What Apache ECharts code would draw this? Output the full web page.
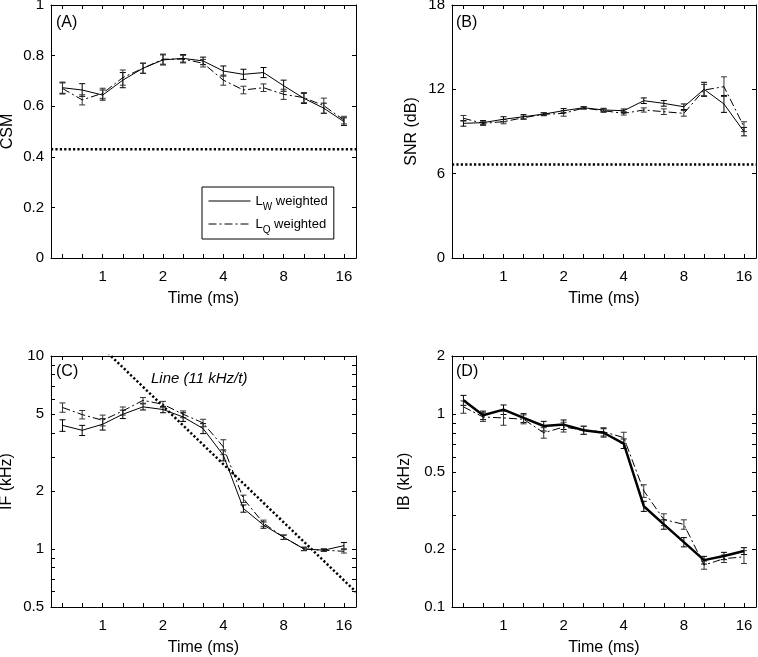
<!DOCTYPE html>
<html><head><meta charset="utf-8">
<script src="https://cdn.jsdelivr.net/npm/echarts@6/dist/echarts.min.js"></script>
<style>html,body{margin:0;padding:0;background:#fff}#c{width:758px;height:657px}</style>
</head><body><div id="c"></div>
<script>
// ---- data ----
const times = [0.63, 0.79, 1, 1.26, 1.59, 2, 2.52, 3.17, 4, 5.04, 6.35, 8, 10.1, 12.7, 16];
const timeLabels = [1, 2, 4, 8, 16];

const csmLw    = [0.673,0.664,0.644,0.703,0.750,0.783,0.789,0.779,0.739,0.726,0.733,0.681,0.631,0.592,0.539];
const csmLq    = [0.670,0.625,0.651,0.713,0.750,0.786,0.786,0.770,0.703,0.664,0.673,0.647,0.634,0.602,0.545];
const csmLwErr = [0.022,0.025,0.02,0.03,0.02,0.02,0.015,0.015,0.02,0.02,0.02,0.022,0.02,0.02,0.015];
const csmLqErr = [0.022,0.02,0.02,0.03,0.02,0.02,0.015,0.015,0.02,0.015,0.015,0.02,0.02,0.03,0.015];
const csmThreshold = 0.43;

const snrLw    = [9.58,9.63,9.87,10.05,10.24,10.48,10.69,10.53,10.48,11.19,11.0,10.76,12.0,10.96,8.99];
const snrLq    = [9.94,9.58,9.70,9.98,10.22,10.29,10.67,10.48,10.29,10.53,10.41,10.29,11.95,12.19,9.34];
const snrLwErr = [0.2,0.15,0.18,0.15,0.1,0.15,0.08,0.12,0.12,0.2,0.2,0.2,0.5,0.6,0.3];
const snrLqErr = [0.2,0.15,0.15,0.12,0.1,0.2,0.08,0.12,0.12,0.15,0.2,0.2,0.4,0.7,0.35];
const snrThreshold = 6.66;

const ifLw    = [4.37,4.12,4.43,4.99,5.45,5.28,4.83,4.21,3.06,1.62,1.33,1.15,1.0,0.985,1.04];
const ifLq    = [5.41,4.97,4.64,5.19,5.89,5.62,4.99,4.50,3.38,1.82,1.36,1.15,1.0,0.985,0.972];
const ifLwErr = [0.3,0.25,0.3,0.25,0.2,0.2,0.25,0.25,0.2,0.07,0.05,0.03,0.02,0.015,0.04];
const ifLqErr = [0.3,0.25,0.3,0.25,0.2,0.2,0.2,0.2,0.3,0.08,0.05,0.03,0.02,0.015,0.02];
const ifLineConstant = 11; // Line (11 kHz / t)
const ifTicks  = [0.5,0.6,0.7,0.8,0.9,1,2,3,4,5,6,7,8,9,10];
const ifLabels = [0.5,1,2,5,10];

const ibLw    = [1.18,0.986,1.055,0.955,0.867,0.882,0.825,0.80,0.703,0.333,0.268,0.217,0.175,0.184,0.195];
const ibLq    = [1.09,0.966,0.955,0.94,0.80,0.857,0.825,0.81,0.755,0.40,0.284,0.268,0.165,0.178,0.182];
const ibLwErr = [0.07,0.05,0.06,0.05,0.05,0.05,0.04,0.04,0.04,0.02,0.015,0.012,0.008,0.008,0.008];
const ibLqErr = [0.08,0.05,0.08,0.05,0.05,0.05,0.04,0.04,0.05,0.03,0.02,0.015,0.008,0.008,0.014];
const ibTicks  = [0.1,0.2,0.3,0.4,0.5,0.6,0.7,0.8,0.9,1,2];
const ibLabels = [0.1,0.2,0.5,1,2];

// ---- helpers ----
const FONT = 'Liberation Sans, Arial, Helvetica, sans-serif';
const XMIN = -0.857, XMAX = 4.2;           // log2(time) axis extent
const lg2 = Math.log2, lg10 = Math.log10;
const ident = v => v;
const DASHDOT = [8, 3, 2, 3];

function xAxes(g) {
  const base = {
    type: 'value', gridIndex: g, min: XMIN, max: XMAX,
    axisLine: {show: true, onZero: false, lineStyle: {color: '#000', width: 1}},
    axisTick: {show: true, inside: true, length: 4, customValues: times.map(lg2), lineStyle: {color: '#000'}},
    splitLine: {show: false}
  };
  return [
    Object.assign({}, base, {
      position: 'bottom',
      axisLabel: {show: true, customValues: timeLabels.map(lg2), formatter: v => String(Math.round(Math.pow(2, v))),
        margin: 11, fontSize: 15, color: '#000', fontFamily: FONT},
      name: 'Time (ms)', nameLocation: 'middle', nameGap: 33,
      nameTextStyle: {fontSize: 16, color: '#000', fontFamily: FONT}
    }),
    Object.assign({}, base, {position: 'top', axisLabel: {show: false}})
  ];
}
function yAxes(g, cfg) {
  const base = {
    type: 'value', gridIndex: g, min: cfg.min, max: cfg.max,
    axisLine: {show: true, onZero: false, lineStyle: {color: '#000', width: 1}},
    axisTick: Object.assign({show: true, inside: true, length: 4, lineStyle: {color: '#000'}},
      cfg.ticks ? {customValues: cfg.ticks} : {}),
    splitLine: {show: false}
  };
  if (cfg.interval) base.interval = cfg.interval;
  return [
    Object.assign({}, base, {
      position: 'left',
      axisLabel: Object.assign({show: true, margin: 7, fontSize: 15, color: '#000', fontFamily: FONT},
        cfg.labels ? {customValues: cfg.labels} : {}, cfg.fmt ? {formatter: cfg.fmt} : {}),
      name: cfg.name, nameLocation: 'middle', nameGap: cfg.gap,
      nameTextStyle: {fontSize: 16, color: '#000', fontFamily: FONT}
    }),
    Object.assign({}, base, {position: 'right', axisLabel: {show: false}})
  ];
}
function lineSeries(name, g, vals, tf, dash, width) {
  return {
    name, type: 'line', xAxisIndex: 2 * g, yAxisIndex: 2 * g,
    data: times.map((t, i) => [lg2(t), tf(vals[i])]),
    symbol: 'none', showSymbol: false, silent: true, z: 4,
    itemStyle: {color: '#000'},
    lineStyle: {color: '#000', width: width || 1, type: dash ? DASHDOT : 'solid'}
  };
}
function errSeries(name, g, vals, errs, tf, color) {
  return {
    name, type: 'custom', xAxisIndex: 2 * g, yAxisIndex: 2 * g, silent: true, z: 3,
    data: times.map((t, i) => [lg2(t), tf(vals[i] - errs[i]), tf(vals[i] + errs[i])]),
    encode: {x: 0, y: [1, 2]},
    renderItem: (params, api) => {
      const x = api.value(0);
      const p1 = api.coord([x, api.value(1)]);
      const p2 = api.coord([x, api.value(2)]);
      const w = 3, st = {stroke: color, lineWidth: 1};
      return {type: 'group', children: [
        {type: 'line', shape: {x1: p1[0], y1: p1[1], x2: p2[0], y2: p2[1]}, style: st},
        {type: 'line', shape: {x1: p1[0] - w, y1: p1[1], x2: p1[0] + w, y2: p1[1]}, style: st},
        {type: 'line', shape: {x1: p2[0] - w, y1: p2[1], x2: p2[0] + w, y2: p2[1]}, style: st}
      ]};
    }
  };
}
function dottedSeries(name, g, pts) {
  return {
    name, type: 'line', xAxisIndex: 2 * g, yAxisIndex: 2 * g, data: pts, clip: true,
    symbol: 'none', showSymbol: false, silent: true, z: 2,
    lineStyle: {color: '#000', width: 2.5, type: [2.2, 2.2]}
  };
}

const grids = [
  {left: 51, top: 5, width: 305, height: 253},
  {left: 452, top: 5, width: 304, height: 253},
  {left: 51, top: 356, width: 305, height: 251},
  {left: 452, top: 356, width: 304, height: 251}
].map(g => Object.assign(g, {containLabel: false, outerBoundsMode: 'none'}));

const logFmt = v => String(+Math.pow(10, v).toPrecision(2));

const xAxis = [].concat(xAxes(0), xAxes(1), xAxes(2), xAxes(3));
const yAxis = [].concat(
  yAxes(0, {min: 0, max: 1, interval: 0.2, name: 'CSM', gap: 35}),
  yAxes(1, {min: 0, max: 18, interval: 6, name: 'SNR (dB)', gap: 32}),
  yAxes(2, {min: lg10(0.5), max: 1, ticks: ifTicks.map(lg10), labels: ifLabels.map(lg10), fmt: logFmt, name: 'IF (kHz)', gap: 36}),
  yAxes(3, {min: -1, max: lg10(2), ticks: ibTicks.map(lg10), labels: ibLabels.map(lg10), fmt: logFmt, name: 'IB (kHz)', gap: 39})
);

const tEnds = [Math.pow(2, XMIN), Math.pow(2, XMAX)];
const series = [
  dottedSeries('csmThr', 0, [[XMIN, csmThreshold], [XMAX, csmThreshold]]),
  errSeries('csmLwE', 0, csmLw, csmLwErr, ident, '#000'),
  errSeries('csmLqE', 0, csmLq, csmLqErr, ident, '#333'),
  lineSeries('Lw', 0, csmLw, ident, false),
  lineSeries('Lq', 0, csmLq, ident, true),

  dottedSeries('snrThr', 1, [[XMIN, snrThreshold], [XMAX, snrThreshold]]),
  errSeries('snrLwE', 1, snrLw, snrLwErr, ident, '#000'),
  errSeries('snrLqE', 1, snrLq, snrLqErr, ident, '#333'),
  lineSeries('snrLw', 1, snrLw, ident, false),
  lineSeries('snrLq', 1, snrLq, ident, true),

  dottedSeries('ifLine', 2, tEnds.map(t => [lg2(t), lg10(ifLineConstant / t)])),
  errSeries('ifLwE', 2, ifLw, ifLwErr, lg10, '#000'),
  errSeries('ifLqE', 2, ifLq, ifLqErr, lg10, '#333'),
  lineSeries('ifLw', 2, ifLw, lg10, false),
  lineSeries('ifLq', 2, ifLq, lg10, true),

  errSeries('ibLwE', 3, ibLw, ibLwErr, lg10, '#000'),
  errSeries('ibLqE', 3, ibLq, ibLqErr, lg10, '#333'),
  lineSeries('ibLw', 3, ibLw, lg10, false, 2.5),
  lineSeries('ibLq', 3, ibLq, lg10, true)
];

function label(text, x, y, extra) {
  return {type: 'text', x, y, silent: true, z: 10,
    style: Object.assign({text, fill: '#000', fontSize: 16, fontFamily: FONT,
      verticalAlign: 'middle', textVerticalAlign: 'middle'}, extra || {})};
}

const option = {
  animation: false,
  backgroundColor: '#fff',
  textStyle: {fontFamily: FONT},
  grid: grids,
  xAxis, yAxis, series,
  legend: {
    data: ['Lw', 'Lq'], orient: 'vertical', left: 202, top: 187,
    selectedMode: false, itemWidth: 42, itemHeight: 14, itemGap: 1,
    padding: [3, 6, 4, 6], borderColor: '#000', borderWidth: 1, backgroundColor: '#fff',
    itemStyle: {opacity: 0},
    lineStyle: {width: 1, color: '#000'},
    formatter: n => n === 'Lw' ? '{n|L}{s|W}{n| weighted}' : '{n|L}{s|Q}{n| weighted}',
    textStyle: {color: '#000', fontFamily: FONT, fontSize: 13,
      rich: {
        n: {fontSize: 13, lineHeight: 16, color: '#000', fontFamily: FONT},
        s: {fontSize: 10, lineHeight: 10, padding: [12, 0, 0, 0], color: '#000', fontFamily: FONT}
      }}
  },
  graphic: [
    label('(A)', 56, 23),
    label('(B)', 456, 23),
    label('(C)', 56, 372),
    label('(D)', 456, 372),
    label('Line (11 kHz/t)', 151, 379, {fontSize: 15, fontStyle: 'italic'})
  ]
};

const chart = echarts.init(document.getElementById('c'), null, {renderer: 'canvas'});
chart.setOption(option);
</script>
</body></html>
